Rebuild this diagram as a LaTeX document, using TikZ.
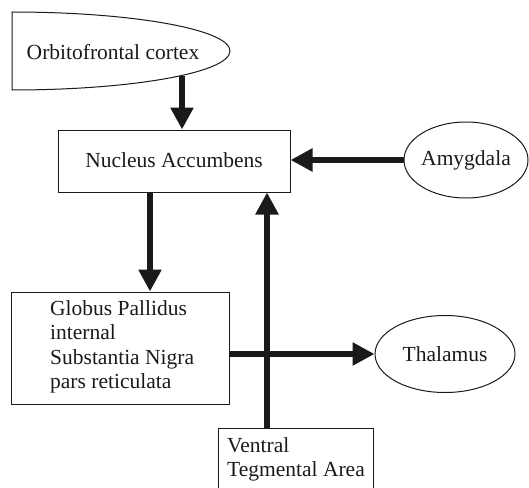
\documentclass[tikz,border=0pt]{standalone}
\usepackage{fontspec}
\setmainfont{Liberation Serif}
\usetikzlibrary{arrows.meta,shapes.geometric}
\definecolor{ink}{HTML}{1A1A1A}
\tikzset{
  box/.style={draw=ink, line width=1pt, rectangle, inner sep=0pt},
  oval/.style={draw=ink, line width=1pt, ellipse, inner sep=0pt},
  lbl/.style={font=\fontsize{21.5}{24.5}\selectfont, text=ink, inner sep=0pt},
  arr/.style={draw=ink, line width=5.5pt, -{Triangle[length=22pt,width=22pt]}},
}
\begin{document}
\begin{tikzpicture}[x=1pt,y=-1pt]
\useasboundingbox (0,0) rectangle (529,487);
\begin{scope}
\clip (0,0) rectangle (529,487);

% half-ellipse with a straight left side
\draw[ink, line width=1pt] (12,12) arc[start angle=-90, end angle=90, x radius=218, y radius=39] -- cycle;
\node[lbl] (ofc) at (113,52) {Orbitofrontal cortex};
\coordinate (ofcb) at (182,76);

\node[box, minimum width=232, minimum height=62] (nacc) at (174,161) {};
\node[lbl] (nacct) at (174,160) {Nucleus Accumbens};

\node[oval, minimum width=124, minimum height=76] (amy) at (466,160) {};
\node[lbl] (amyt) at (466,160) {Amygdala};

\node[box, minimum width=218, minimum height=112] (gp) at (120,348) {};
\node[lbl, anchor=west, align=left] (gpt) at (50,347) {Globus Pallidus\\internal\\Substantia Nigra\\pars reticulata};

\node[oval, minimum width=140, minimum height=77] (thal) at (445,354) {};
\node[lbl] (thalt) at (445,354) {Thalamus};

\node[box, minimum width=155, minimum height=100, anchor=north west] (vta) at (218,428) {};
\node[lbl, anchor=north west, align=left] (vtat) at (227,437) {Ventral\\Tegmental Area};

\coordinate (vx) at (267,0);
\coordinate (dx) at (150,0);

% connectors
\draw[arr] (ofcb) -- (nacc.north -| ofcb);
\draw[arr] (amy.west) -- (nacc.east |- amy.west);
\draw[arr] (nacc.south -| dx) -- (gp.north -| dx);
\draw[arr] (vta.north -| vx) -- (nacc.south -| vx);
\draw[arr] (gp.east |- thal.west) -- (thal.west);
\end{scope}
\end{tikzpicture}
\end{document}
